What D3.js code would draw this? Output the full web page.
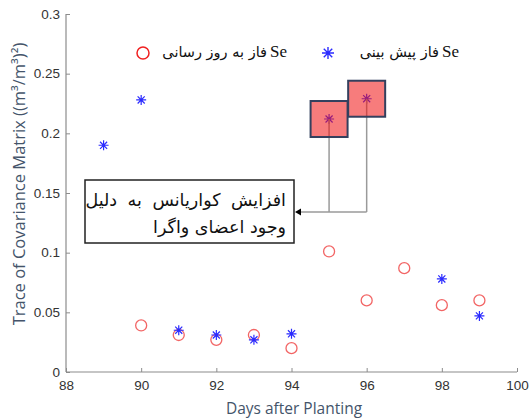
<!DOCTYPE html>
<html><head><meta charset="utf-8">
<script src="https://cdn.jsdelivr.net/npm/d3@7"></script>
<style>body{margin:0;background:#fff}svg{display:block}</style>
</head><body>
<svg id="c" width="529" height="419"></svg>
<script>
const predDays = [89, 90, 91, 92, 93, 94, 95, 96, 98, 99];
const predValues = [0.190, 0.228, 0.035, 0.031, 0.027, 0.032, 0.212, 0.229, 0.078, 0.047];
const updDays = [90, 91, 92, 93, 94, 95, 96, 97, 98, 99];
const updValues = [0.039, 0.031, 0.027, 0.031, 0.020, 0.101, 0.060, 0.087, 0.056, 0.060];
const highlightDays = [95, 96];
const xTicks = [88, 90, 92, 94, 96, 98, 100];
const yTicks = [0, 0.05, 0.1, 0.15, 0.2, 0.25, 0.3];
const legendUpd = "فاز به روز رسانی";
const legendPred = "فاز پیش بینی";
const noteLines = ["افزایش کواریانس به دلیل", "وجود اعضای واگرا"];

const svg = d3.select("#c");
const x = d3.scaleLinear().domain([88, 100]).range([66, 517]);
const y = d3.scaleLinear().domain([0, 0.3]).range([372, 14]);

const axisColor = "#8c8c8c", tickText = "#333";
const gx = svg.append("g").attr("transform", "translate(0,372)")
  .call(d3.axisBottom(x).tickValues(xTicks).tickSize(-4).tickPadding(8).tickFormat(d3.format("d")));
const gy = svg.append("g").attr("transform", "translate(66,0)")
  .call(d3.axisLeft(y).tickValues(yTicks).tickSize(-4).tickPadding(6).tickFormat(d => d === 0 ? "0" : String(d)));
[gx, gy].forEach(g => {
  g.select(".domain").attr("stroke", axisColor).attr("stroke-width", 1.2);
  g.selectAll(".tick line").attr("stroke", axisColor);
  g.selectAll(".tick text").attr("fill", tickText).attr("font-family", "Liberation Sans, Arial, sans-serif").attr("font-size", 13.5);
});
gx.select(".domain").attr("d", `M66,0H517`);
gy.select(".domain").attr("d", `M0,14V372`);

svg.append("text").attr("x", 294).attr("y", 414).attr("text-anchor", "middle")
  .attr("font-family", "Open Sans, DejaVu Sans, sans-serif").attr("font-size", 15.5).attr("fill", "#44546a")
  .text("Days after Planting");
svg.append("text").attr("transform", "translate(25,184) rotate(-90)").attr("text-anchor", "middle")
  .attr("font-family", "Open Sans, DejaVu Sans, sans-serif").attr("font-size", 16.5).attr("fill", "#44546a")
  .text("Trace of Covariance Matrix ((m³/m³)²)");

function starPath(r) {
  const d = r * Math.SQRT1_2;
  return `M${-r},0H${r}M0,${-r}V${r}M${-d},${-d}L${d},${d}M${-d},${d}L${d},${-d}`;
}
const blue = "#2b2bff", red = "#f04a4a";

svg.append("g").selectAll("circle").data(updDays.map((d, i) => [d, updValues[i]])).join("circle")
  .attr("cx", d => x(d[0])).attr("cy", d => y(d[1])).attr("r", 5.5)
  .attr("fill", "none").attr("stroke", red).attr("stroke-opacity", 0.85).attr("stroke-width", 1.3);

svg.append("g").selectAll("path").data(predDays.map((d, i) => [d, predValues[i]])).join("path")
  .attr("transform", d => `translate(${x(d[0])},${y(d[1])})`).attr("d", starPath(5))
  .attr("stroke", blue).attr("stroke-width", 1.2).attr("fill", "none");

const hl = highlightDays.map(d => [d, predValues[predDays.indexOf(d)]]);
const lineY = 212;
const lg = svg.append("g").attr("stroke", "#9a9a9a").attr("stroke-width", 1.5).attr("fill", "none");
hl.forEach(d => lg.append("line").attr("x1", x(d[0])).attr("x2", x(d[0])).attr("y1", y(d[1])).attr("y2", lineY));
lg.append("line").attr("x1", 300).attr("x2", x(hl[hl.length - 1][0])).attr("y1", lineY).attr("y2", lineY);
svg.append("path").attr("d", `M295,${lineY}L301,${lineY - 3.5}L301,${lineY + 3.5}Z`).attr("fill", "#000");

svg.append("g").selectAll("rect").data(hl).join("rect")
  .attr("x", d => x(d[0]) - 18.5).attr("y", d => y(d[1]) - 18).attr("width", 37).attr("height", 36)
  .attr("fill", "#f01010").attr("fill-opacity", 0.55).attr("stroke", "#34405e").attr("stroke-width", 2);

svg.append("rect").attr("x", 85).attr("y", 180).attr("width", 209).attr("height", 63)
  .attr("fill", "#fff").attr("stroke", "#222").attr("stroke-width", 1.5);
noteLines.forEach((t, i) => svg.append("text").attr("x", 286).attr("y", 206 + i * 27)
  .attr("text-anchor", "start").attr("direction", "rtl").attr("word-spacing", i === 0 ? 5 : 0)
  .attr("font-family", "DejaVu Sans, sans-serif").attr("font-size", 17.5).attr("fill", "#111").text(t));

const lgd = svg.append("g");
lgd.append("circle").attr("cx", 143).attr("cy", 53).attr("r", 6).attr("fill", "none").attr("stroke", "#f02020").attr("stroke-width", 1.5);
lgd.append("text").attr("x", 287).attr("y", 57).attr("text-anchor", "end")
  .attr("font-family", "Liberation Serif, serif").attr("font-size", 17).attr("fill", "#111").text("Se");
lgd.append("text").attr("x", 267).attr("y", 57).attr("text-anchor", "start").attr("direction", "rtl")
  .attr("font-family", "DejaVu Sans, sans-serif").attr("font-size", 14.5).attr("fill", "#111").text(legendUpd);
lgd.append("path").attr("transform", "translate(328,53)").attr("d", starPath(6)).attr("stroke", blue).attr("stroke-width", 1.4);
lgd.append("text").attr("x", 459).attr("y", 57).attr("text-anchor", "end")
  .attr("font-family", "Liberation Serif, serif").attr("font-size", 17).attr("fill", "#111").text("Se");
lgd.append("text").attr("x", 439).attr("y", 57).attr("text-anchor", "start").attr("direction", "rtl")
  .attr("font-family", "DejaVu Sans, sans-serif").attr("font-size", 14.5).attr("fill", "#111").text(legendPred);
</script>
</body></html>
